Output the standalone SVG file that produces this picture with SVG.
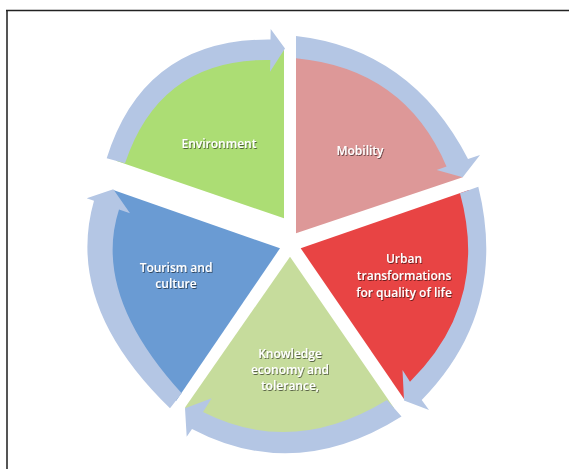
<svg xmlns="http://www.w3.org/2000/svg" width="569" height="469" viewBox="0 0 569 469">
<defs>
<filter id="ts" x="-10%" y="-30%" width="120%" height="160%">
<feDropShadow dx="0.8" dy="1" stdDeviation="0.6" flood-color="#000" flood-opacity="0.55"/>
</filter>
</defs>
<style>
.lbl{font-family:"Open Sans","Liberation Sans",sans-serif;font-size:12px;font-weight:600;fill:#fff;text-anchor:middle;filter:url(#ts)}
.band{fill:#b4c6e4}
</style>
<rect width="569" height="469" fill="#fff"/>
<path d="M7,469 V10.5" stroke="#555" stroke-width="2" fill="none"/>
<path d="M6,10.5 H569" stroke="#222" stroke-width="1.4" fill="none"/>

<g id="environment">
<path d="M284,218.3 L116,160.8 Q152.2,48.1 270.4,49.75 L284,50 Z" fill="#acdd74"/>
<text class="lbl" x="219" y="148">Environment</text>
</g>
<g id="mobility">
<path d="M296,233.3 L296,47 Q408,58.9 457.25,162.75 L462.7,177.3 Z" fill="#dd9898"/>
<text class="lbl" x="360" y="155">Mobility</text>
</g>
<g id="urban">
<path d="M300.7,248.3 L469,190 Q499.5,306.6 415.85,390.85 L404,399 Z" fill="#e84444"/>
<text class="lbl" x="404" y="263">Urban</text>
<text class="lbl" x="404" y="280">transformations</text>
<text class="lbl" x="404" y="296.5">for quality of life</text>
</g>
<g id="knowledge">
<path d="M290,256.7 L394,408 Q294.1,470.3 197.5,420.5 L185,407.5 Z" fill="#c6dc9c"/>
<text class="lbl" x="290" y="358">Knowledge</text>
<text class="lbl" x="290" y="374">economy and</text>
<text class="lbl" x="290" y="390">tolerance,</text>
</g>
<g id="tourism">
<path d="M280,248.3 L176,401 Q77.8,300 106.5,205.2 L113.3,190 Z" fill="#6a9bd3"/>
<text class="lbl" x="176" y="272">Tourism and</text>
<text class="lbl" x="176" y="288">culture</text>
</g>

<g id="connectors">
<path class="band" d="M106.7,158.3 Q144.2,38.3 270.5,39.5 L270.7,29 L285,48.5 L270,71.7 L270.3,60 Q160.25,57.95 125,163.3 Z"/>
<path class="band" d="M296,36 Q411.4,49.1 468,159 L480,155 L462.7,177.3 L436.7,170 L446.5,166.5 Q404.75,68.6 296,58.3 Z"/>
<path class="band" d="M478.3,186.7 Q509,310.65 421.7,400 L429,410 L404,400.5 L402.5,370 L410,381.7 Q490,302.5 460,193.3 Z"/>
<path class="band" d="M401.5,416.5 Q295.25,483.25 192,429 L186.7,436.7 L185,408.3 L211.7,398.3 L203,412 Q293,457.4 387,400 Z"/>
<path class="band" d="M170,408.3 Q64,305.45 94,200.8 L86.7,198.3 L113.3,189.3 L130,213.3 L119,209.5 Q91.65,294.6 181.7,393.3 Z"/>
</g>
</svg>
